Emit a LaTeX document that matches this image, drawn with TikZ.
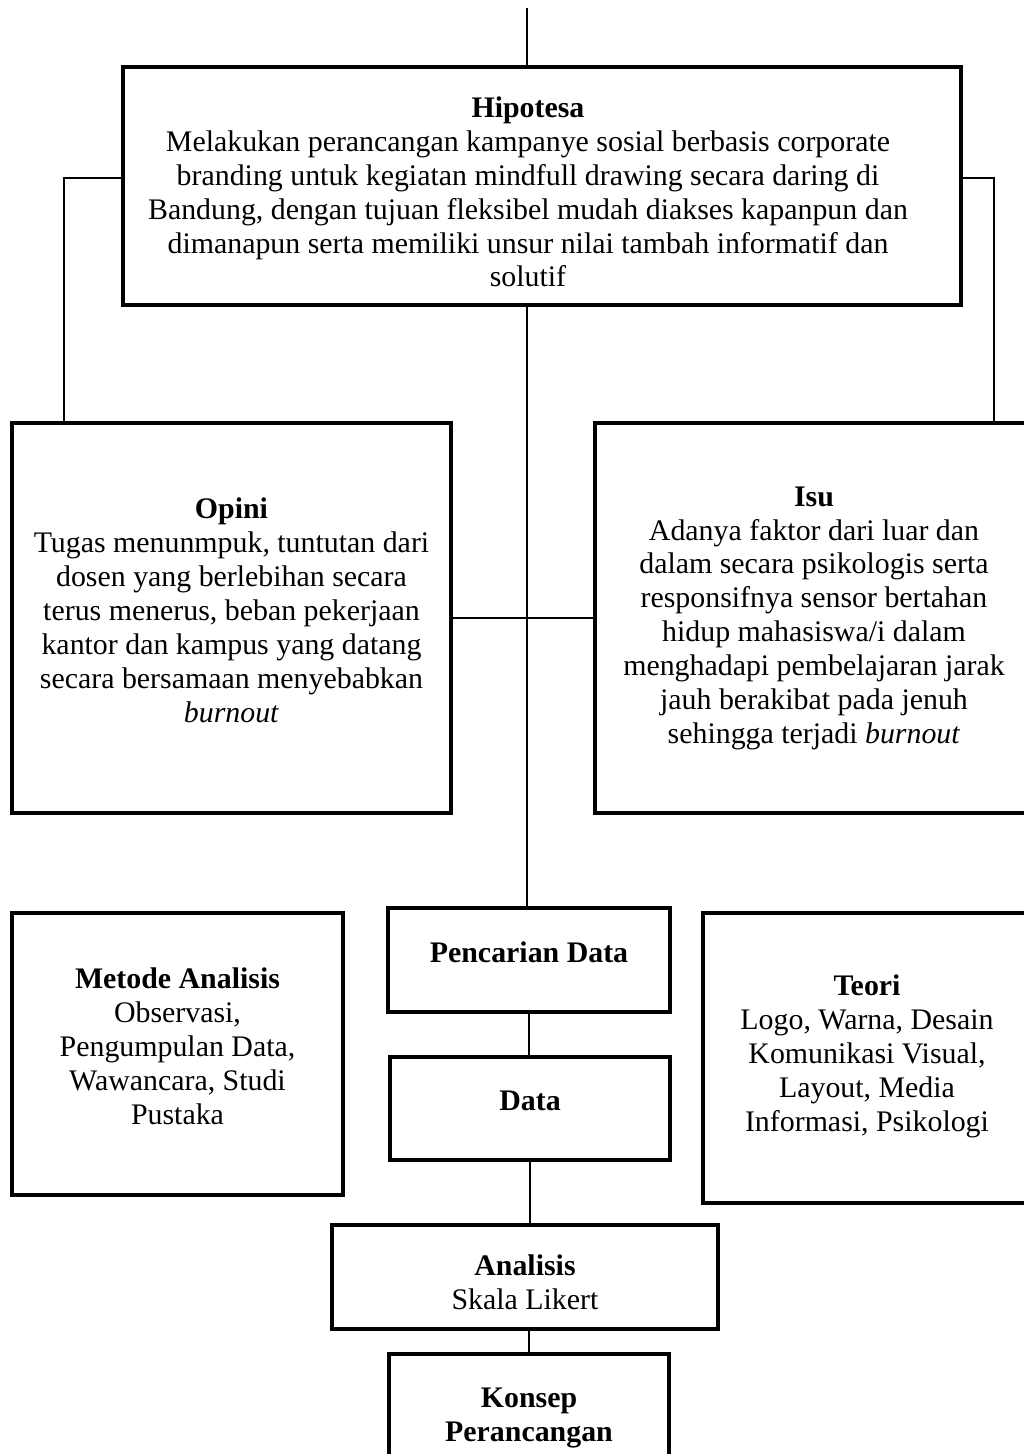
\documentclass[tikz,border=0pt]{standalone}
\usepackage{fontspec}
\setmainfont{Liberation Serif}
\usepackage{tikz}
\usetikzlibrary{positioning}

\begin{document}
\begin{tikzpicture}[x=0.02cm,y=-0.02cm,
    font=\fontsize{17}{19.3}\selectfont,
    box/.style={draw,line width=2.2pt,align=center,inner sep=0pt},
    link/.style={line width=1pt}]
    \useasboundingbox (0,0) rectangle (1024,1454);
    \clip (0,0) rectangle (1024,1454);
    \node[box,minimum width=16.76cm,minimum height=4.76cm] (hip) at (542,186) {};
    \node[align=center,inner sep=0pt] (hiptext) at (528,192)
      {\textbf{Hipotesa}\\Melakukan perancangan kampanye sosial berbasis corporate\\branding untuk kegiatan mindfull drawing secara daring di\\Bandung, dengan tujuan fleksibel mudah diakses kapanpun dan\\dimanapun serta memiliki unsur nilai tambah informatif dan\\solutif};
    \node[box,minimum width=8.78cm,minimum height=7.8cm] (opini) at (231.5,618)
      {\textbf{Opini}\\Tugas menunmpuk, tuntutan dari\\dosen yang berlebihan secara\\terus menerus, beban pekerjaan\\kantor dan kampus yang datang\\secara bersamaan menyebabkan\\\textit{burnout}\\[-0.36cm]};
    \node[box,minimum width=8.76cm,minimum height=7.8cm] (isu) at (814,618)
      {\textbf{Isu}\\Adanya faktor dari luar dan\\dalam secara psikologis serta\\responsifnya sensor bertahan\\hidup mahasiswa/i dalam\\menghadapi pembelajaran jarak\\jauh berakibat pada jenuh\\sehingga terjadi \textit{burnout}\\[-0.56cm]};
    \node[box,minimum width=6.62cm,minimum height=5.64cm] (metode) at (177.5,1054)
      {\textbf{Metode Analisis}\\Observasi,\\Pengumpulan Data,\\Wawancara, Studi\\Pustaka\\[-0.36cm]};
    \node[box,minimum width=5.64cm,minimum height=2.08cm] (cari) at (529,960)
      {\textbf{Pencarian Data}\\[-0.36cm]};
    \node[box,minimum width=5.6cm,minimum height=2.06cm] (data) at (530,1108.5)
      {\textbf{Data}\\[-0.36cm]};
    \node[box,minimum width=6.56cm,minimum height=5.8cm] (teori) at (867,1058)
      {\textbf{Teori}\\Logo, Warna, Desain\\Komunikasi Visual,\\Layout, Media\\Informasi, Psikologi\\[-0.48cm]};
    \node[box,minimum width=7.72cm,minimum height=2.08cm] (analisis) at (525,1277)
      {\textbf{Analisis}\\Skala Likert\\[-0.88cm]};
    \node[box,minimum width=5.6cm,minimum height=2.32cm] (konsep) at (529,1412)
      {\textbf{Konsep}\\\textbf{Perancangan}\\[-0.8cm]};
    % knees of the side links
    \coordinate (top) at (527,8);
    \coordinate (spine) at (527,0);
    \coordinate (lknee) at (64,178);
    \coordinate (rknee) at (994,178);
    \draw[link] (top) -- (top |- hip.north);
    \draw[link] (hip.west |- lknee) -- (lknee) -- (lknee |- opini.north);
    \draw[link] (hip.east |- rknee) -- (rknee) -- (rknee |- isu.north);
    \draw[link] (spine |- hip.south) -- (spine |- cari.north);
    \draw[link] (opini.east) -- (isu.west);
    \draw[link] (cari.south) -- (cari.south |- data.north);
    \draw[link] (data.south) -- (data.south |- analisis.north);
    \draw[link] (konsep.north |- analisis.south) -- (konsep.north);
\end{tikzpicture}
\end{document}
